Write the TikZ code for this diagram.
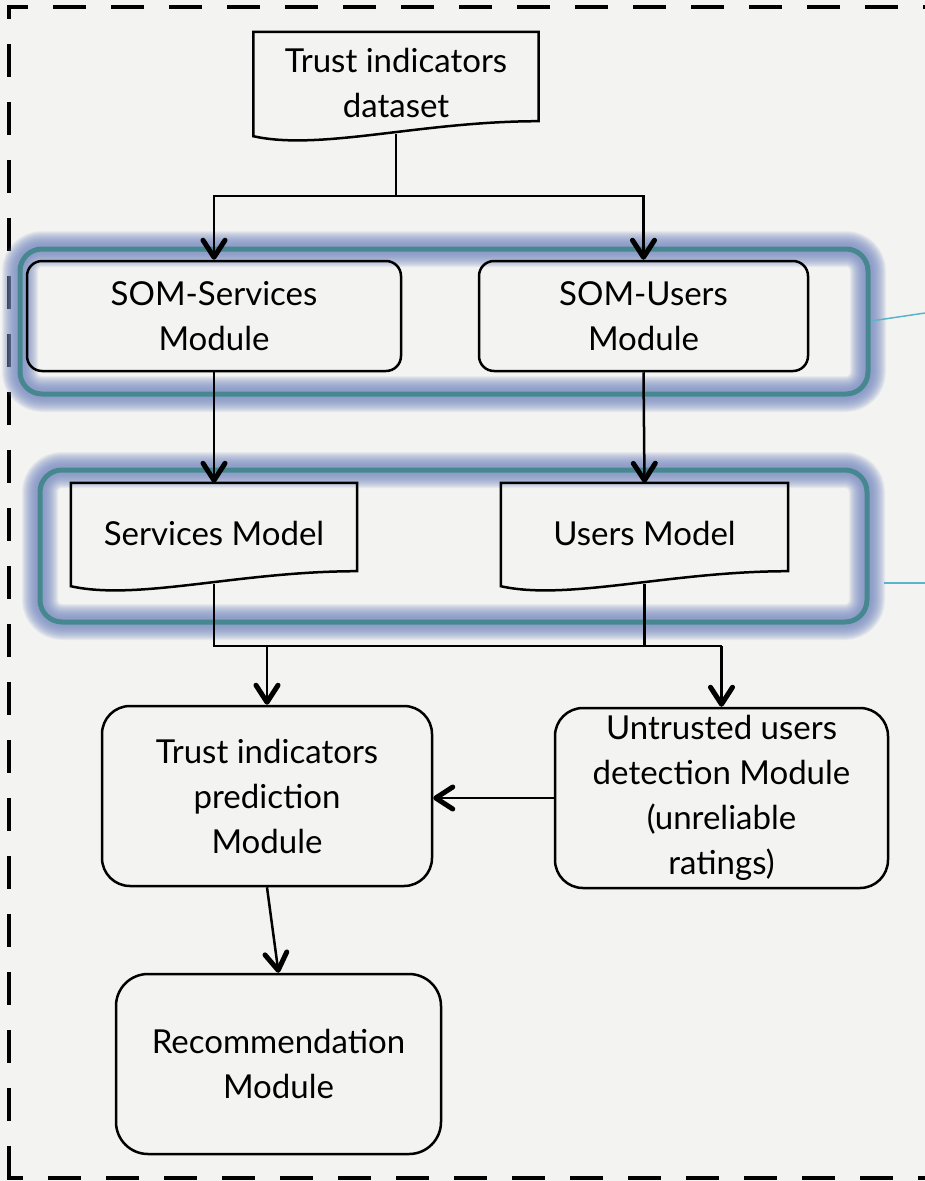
\documentclass[tikz,border=0pt]{standalone}
\usepackage{fontspec}
\setmainfont{Lato}
\usetikzlibrary{arrows.meta,calc}
\definecolor{bg}{HTML}{F3F3F1}
\definecolor{tealline}{HTML}{468790}
\definecolor{glowc}{HTML}{7E90C4}
\definecolor{thinteal}{HTML}{5BB5C9}
\newcommand\docoutline[1]{%
  \draw[docline] (#1.north west) -- (#1.north east) -- ($(#1.south east)+(0,-13)$)
    .. controls ($(#1.south east)+(-118,-13)$) and ($(#1.south west)+(67,17)$) .. ($(#1.south west)+(0,2)$) -- cycle;}
\newcommand\glowrect[4]{%
  \foreach \w in {36,34,...,8}{\draw[glowc, opacity=0.11, line width=\w pt, rounded corners=22pt] (#1,#2) rectangle (#3,#4);}
  \draw[tealline, line width=5pt, rounded corners=22pt] (#1,#2) rectangle (#3,#4);}
\begin{document}
\begin{tikzpicture}[x=1pt,y=-1pt,
  every node/.style={font=\fontsize{33}{45}\selectfont, align=center, text=black},
  modbox/.style={draw=black, line width=2.5pt, rounded corners=#1, inner sep=0pt},
  modbox/.default=15pt,
  docbox/.style={inner sep=0pt},
  docline/.style={draw=black, line width=2.5pt, line join=miter},
  conn/.style={draw=black, line width=2.5pt},
  arr/.style={conn, -{Straight Barb[length=17pt,width=22pt,line width=5pt,round]}},
  border/.style={draw=black, line width=4pt, dash pattern=on 33pt off 25pt}
]
% background
\fill[bg] (0,0) rectangle (925,1181);
\useasboundingbox (0,0) rectangle (925,1181);
% dashed frame (right side lies outside the picture)
\draw[border, dash phase=12pt] (7,7) -- (925,7);
\draw[border, dash phase=19pt] (9,5) -- (9,1180);
\draw[border, dash phase=17pt] (7,1178) -- (925,1178);
% glow groups
\glowrect{20}{249}{868}{394}
\glowrect{40}{470}{867}{622}
\draw[thinteal, line width=1.5pt] (871,321) -- (925,313);
\draw[thinteal, line width=1.5pt] (884,583) -- (925,583);
% nodes
\node[docbox, minimum width=285pt, minimum height=102pt] (ds) at (396,83) {Trust indicators\\dataset};
\docoutline{ds}
\node[modbox, minimum width=374pt, minimum height=110pt] (somS) at (214,316) {SOM-Services\\Module};
\node[modbox, minimum width=329pt, minimum height=110pt] (somU) at (643.5,316) {SOM-Users\\Module};
\node[docbox, minimum width=286pt, minimum height=101pt] (sm) at (214,533.5) {Services Model};
\docoutline{sm}
\node[docbox, minimum width=287pt, minimum height=101pt] (um) at (644.5,533.5) {Users Model};
\docoutline{um}
\node[modbox=28pt, minimum width=330pt, minimum height=180pt] (tp) at (267,796) {Trust indicators\\prediction\\Module};
\node[modbox=28pt, minimum width=333pt, minimum height=180pt] (ut) at (721.5,798) {Untrusted users\\detection Module\\(unreliable\\ratings)};
\node[modbox=32pt, minimum width=325pt, minimum height=180pt] (rec) at (278.5,1064) {Recommendation\\Module};
% connectors
\draw[conn] (ds.south) -- ++(0,62) coordinate (j1);
\draw[arr] (j1) -| (somS.north);
\draw[arr] (j1) -| (somU.north);
\draw[arr] (somS.south) -- (sm.north);
\draw[arr] (somU.south) -- (um.north);
\draw[conn] (sm.south) -- ++(0,62) coordinate (j2) -- (j2 -| ut.north) coordinate (j3);
\draw[conn] (um.south) -- (um.south |- j2);
\draw[arr] (j2 -| tp.north) -- (tp.north);
\draw[arr] (j3) -- (ut.north);
\draw[arr] (ut.west) -- (tp.east |- ut.west);
\draw[arr] (tp.south) -- (rec.north);
\end{tikzpicture}
\end{document}
